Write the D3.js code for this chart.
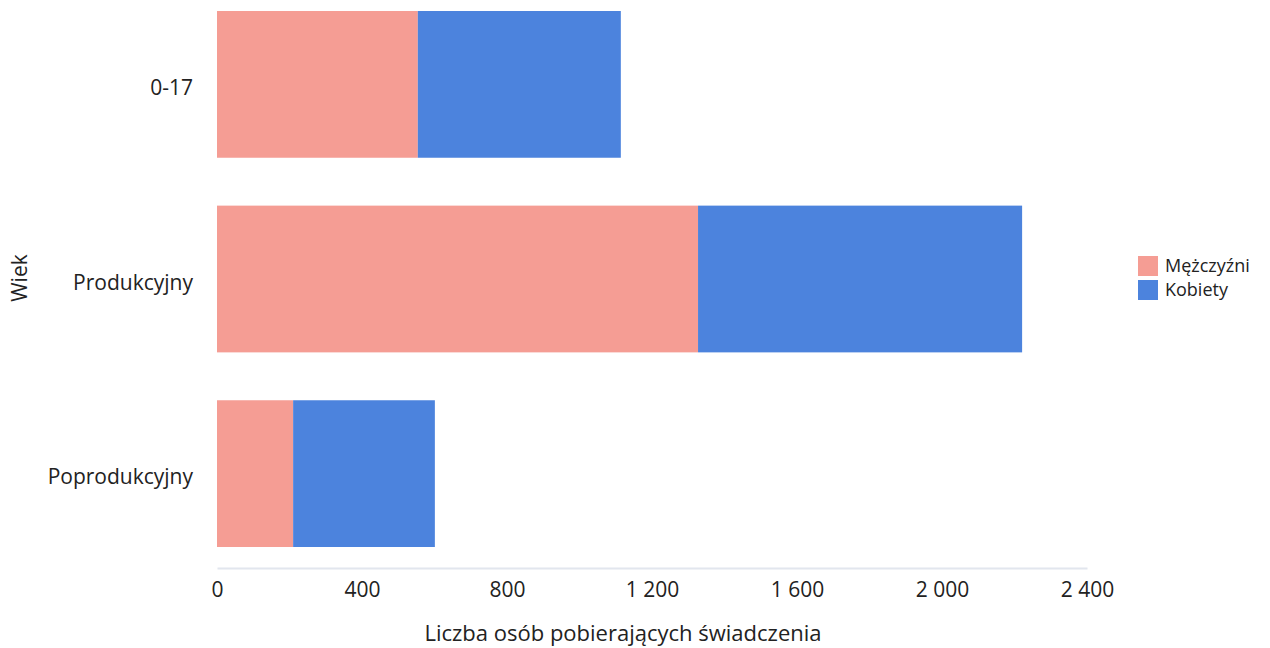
<!DOCTYPE html>
<html><head><meta charset="utf-8">
<script src="https://cdn.jsdelivr.net/npm/d3@7"></script>
<style>body{margin:0;background:#fff}svg{display:block}text{font-family:"Open Sans",sans-serif;fill:#222}</style>
</head><body>
<svg id="c" width="1270" height="648"></svg>
<script>
const categories = ["0-17", "Produkcyjny", "Poprodukcyjny"];
const seriesNames = ["Mężczyźni", "Kobiety"];
const men = [554, 1327, 210];
const women = [560, 894, 391];
const xTicks = [0, 400, 800, 1200, 1600, 2000, 2400];
const colors = ["#f59d94", "#4c83dd"];

const svg = d3.select("#c");
const x = d3.scaleLinear().domain([0, 2400]).range([217, 1087]);
const y = d3.scaleBand().domain(categories).range([11, 547]).paddingInner(0.246).paddingOuter(0);

const rows = categories.map((c, i) => ({cat: c, "Mężczyźni": men[i], "Kobiety": women[i]}));
const stacked = d3.stack().keys(seriesNames)(rows);

svg.append("g").selectAll("g").data(stacked).join("g")
  .attr("fill", (d, i) => colors[i])
  .selectAll("rect").data(d => d).join("rect")
  .attr("x", d => x(d[0]))
  .attr("width", d => x(d[1]) - x(d[0]))
  .attr("y", d => y(d.data.cat))
  .attr("height", y.bandwidth());

// x axis
const fmt = v => d3.format(",")(v).replace(/,/g, " ");
const xa = svg.append("g").attr("transform", "translate(0,568)")
  .call(d3.axisBottom(x).tickValues(xTicks).tickSize(0).tickPadding(14).tickFormat(fmt));
xa.select(".domain").attr("stroke", "#e2e6ee").attr("stroke-width", 2);
xa.selectAll("text").style("font-size", "21px").attr("fill", "#222").style("font-family", "'Open Sans',sans-serif");

// y axis
const ya = svg.append("g").attr("transform", "translate(217,0)")
  .call(d3.axisLeft(y).tickSize(0).tickPadding(24));
ya.select(".domain").remove();
ya.selectAll("text").attr("dy", "0.5em").style("font-size", "21px").attr("fill", "#222").style("font-family", "'Open Sans',sans-serif");

// titles
svg.append("text").attr("x", 623).attr("y", 641).attr("text-anchor", "middle")
  .style("font-size", "22px").text("Liczba osób pobierających świadczenia");
svg.append("text").attr("transform", "translate(27,278) rotate(-90)").attr("text-anchor", "middle")
  .style("font-size", "21px").text("Wiek");

// legend
const lg = svg.append("g").attr("transform", "translate(1138,256)");
seriesNames.forEach((s, i) => {
  lg.append("rect").attr("x", 0).attr("y", i * 24).attr("width", 20).attr("height", 20).attr("fill", colors[i]);
  lg.append("text").attr("x", 27).attr("y", i * 24 + 16).style("font-size", "18px").text(s);
});
</script>
</body></html>
